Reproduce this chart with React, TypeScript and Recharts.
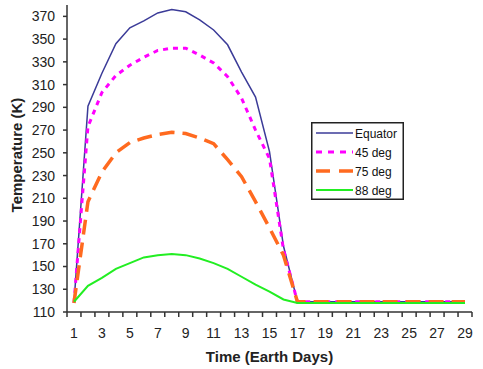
import { LineChart, Line, XAxis, YAxis, Legend } from "recharts";

const days = [
  1, 2, 3, 4, 5, 6, 7, 8, 9, 10, 11, 12, 13, 14, 15, 16, 17, 18, 19, 20, 21,
  22, 23, 24, 25, 26, 27, 28, 29,
];
const equator = [
  118, 291, 320, 346, 360, 366, 373, 376, 374, 367, 358, 345, 321, 299, 251,
  168, 119, 119, 119, 119, 119, 119, 119, 119, 119, 119, 119, 119, 119,
];
const deg45 = [
  118, 273, 303, 318, 327, 334, 340, 342, 342, 336, 329, 317, 298, 270, 245,
  165, 119, 119, 119, 119, 119, 119, 119, 119, 119, 119, 119, 119, 119,
];
const deg75 = [
  118, 207, 233, 250, 259, 263, 266, 268, 267, 263, 258, 244, 229, 207, 184,
  160, 119, 119, 119, 119, 119, 119, 119, 119, 119, 119, 119, 119, 119,
];
const deg88 = [
  119, 133, 140, 148, 153, 158, 160, 161, 160, 157, 153, 148, 141, 134, 128,
  121, 118, 118, 118, 118, 118, 118, 118, 118, 118, 118, 118, 118, 118,
];
const yTicks = [110, 130, 150, 170, 190, 210, 230, 250, 270, 290, 310, 330, 350, 370];
// tick marks sit between days, labels on odd days
const xTicks = [
  ...days.map((d) => d - 0.5),
  29.5,
  ...days,
].sort((a, b) => a - b);

const data = days.map((day, i) => ({
  day,
  equator: equator[i],
  deg45: deg45[i],
  deg75: deg75[i],
  deg88: deg88[i],
}));

const FONT = "Arial, 'Liberation Sans', sans-serif";

const series = [
  { key: "equator", name: "Equator", color: "#3b3b98", width: 1.5, dash: undefined },
  { key: "deg45", name: "45 deg", color: "#ff00ff", width: 3, dash: "5 5" },
  { key: "deg75", name: "75 deg", color: "#ff6a1f", width: 3.5, dash: "15 8" },
  { key: "deg88", name: "88 deg", color: "#22ee22", width: 2, dash: undefined },
];

const DayTick = (props: any) => {
  const { x, y, payload } = props;
  const v = payload.value;
  if (!Number.isInteger(v)) {
    return <line x1={x} x2={x} y1={y} y2={y + 5} stroke="#333" strokeWidth={1.5} />;
  }
  if (v % 2 === 0) return <g />;
  return (
    <text x={x} y={y + 26} textAnchor="middle" fontSize={14} fill="#222" fontFamily={FONT}>
      {v}
    </text>
  );
};

const LegendBox = () => (
  <svg width={93} height={78} style={{ display: "block" }}>
    <rect x={0.75} y={0.75} width={91.5} height={76.5} fill="#fff" stroke="#222" strokeWidth={1.5} />
    {series.map((s, i) => {
      const cy = 11 + i * 19;
      return (
        <g key={s.key}>
          <line
            x1={5}
            x2={42}
            y1={cy}
            y2={cy}
            stroke={s.color}
            strokeWidth={s.width}
            strokeDasharray={s.dash ? (s.key === "deg75" ? "14 9" : "6 6") : undefined}
          />
          <text x={44} y={cy + 4.5} fontSize={12} fill="#111" fontFamily={FONT}>
            {s.name}
          </text>
        </g>
      );
    })}
  </svg>
);

export default function App() {
  return (
    <div style={{ position: "absolute", left: 0, top: 0 }}>
      <LineChart
        width={483}
        height={369}
        data={data}
        margin={{ top: 5, right: 11, bottom: 0, left: 0 }}
      >
        <XAxis
          dataKey="day"
          type="number"
          domain={[0.5, 29.5]}
          ticks={xTicks}
          interval={0}
          tickSize={0}
          tickMargin={0}
          tickLine={false}
          tick={DayTick}
          height={57}
          axisLine={{ stroke: "#333", strokeWidth: 1.5 }}
          label={(p: any) => (
            <text
              x={269.5}
              y={362}
              textAnchor="middle"
              fontSize={15}
              fontWeight="bold"
              fill="#222"
              fontFamily={FONT}
            >
              Time (Earth Days)
            </text>
          )}
        />
        <XAxis
          xAxisId="top"
          orientation="top"
          dataKey="day"
          type="number"
          domain={[0.5, 29.5]}
          height={0}
          tick={false}
          tickLine={false}
          axisLine={{ stroke: "#c8c8c8", strokeWidth: 1 }}
        />
        <YAxis
          domain={[110, 380]}
          ticks={yTicks}
          interval={0}
          width={67}
          tickSize={4}
          tickMargin={8}
          tick={{ fontSize: 14, fill: "#222", fontFamily: FONT }}
          tickLine={{ stroke: "#333", strokeWidth: 1.5 }}
          axisLine={{ stroke: "#333", strokeWidth: 1.5 }}
          label={(p: any) => (
            <text
              x={22}
              y={155}
              transform="rotate(-90, 22, 155)"
              textAnchor="middle"
              fontSize={15}
              fontWeight="bold"
              fill="#222"
              fontFamily={FONT}
            >
              Temperature (K)
            </text>
          )}
        />
        <YAxis
          yAxisId="right"
          orientation="right"
          domain={[110, 380]}
          width={0}
          tick={false}
          tickLine={false}
          axisLine={{ stroke: "#c8c8c8", strokeWidth: 1 }}
        />
        {series.map((s) => (
          <Line
            key={s.key}
            dataKey={s.key}
            name={s.name}
            type="linear"
            stroke={s.color}
            strokeWidth={s.width}
            strokeDasharray={s.dash}
            dot={false}
            activeDot={false}
            isAnimationActive={false}
          />
        ))}
        <Legend
          layout="vertical"
          align="center"
          verticalAlign="middle"
          content={() => <LegendBox />}
          wrapperStyle={{ position: "absolute", left: 311, top: 122, width: 93, height: 78 }}
        />
      </LineChart>
    </div>
  );
}
